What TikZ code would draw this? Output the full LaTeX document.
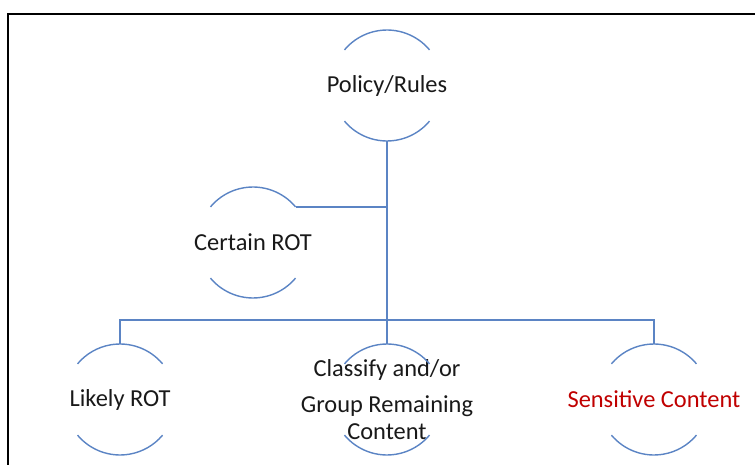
\documentclass[tikz,border=0pt]{standalone}
\usepackage{fontspec}
\setmainfont{Carlito}
\usetikzlibrary{positioning}

\definecolor{linkblue}{HTML}{5B84C4}
\definecolor{alertred}{HTML}{C00000}

\begin{document}
\begin{tikzpicture}[
    x=0.02cm, y=0.02cm,
    unit/.style={circle, minimum size=2.22cm, inner sep=0pt, outer sep=0pt},
    tag/.style={font=\fontsize{13.9}{16.5}\selectfont, text=black!90, align=center},
    rim/.style={draw=linkblue, line width=0.8pt},
    link/.style={draw=linkblue, line width=0.8pt}
  ]
    \useasboundingbox (0,0) rectangle (755,464);
    \draw[line width=1.7pt] (8,450) rectangle (790,-30);

    \node[unit, label={[tag]center:Policy/Rules}] (policy) at (387,378.5) {};
    \node[unit, label={[tag]center:Certain ROT}] (certain) at (253,221.5) {};
    \node[unit, label={[tag]center:{Classify and/or\\[4pt]Group Remaining\\[-1.2pt]Content}}] (classify) at (387,64.5) {};
    \node[unit, left=3.12cm of classify, label={[tag]center:Likely ROT}] (likely) {};
    \node[unit, right=3.12cm of classify, label={[tag, text=alertred]center:Sensitive Content}] (sensitive) {};

    % open circles: only the top and bottom arcs
    \foreach \n in {policy,certain,classify,likely,sensitive} {
      \draw[rim] (\n.40) arc[start angle=40, end angle=140, radius=1.11cm];
      \draw[rim] (\n.220) arc[start angle=220, end angle=320, radius=1.11cm];
    }

    \coordinate (bus) at (387,144);
    \draw[link] (policy.south) -- (classify.north);
    \draw[link] (certain.40) -- (certain.40 -| policy.south);
    \draw[link] (likely.north) |- (bus) -| (sensitive.north);
\end{tikzpicture}
\end{document}
